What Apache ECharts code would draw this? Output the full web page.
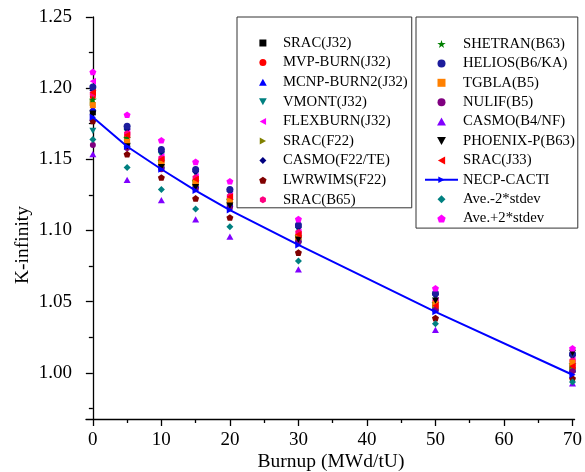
<!DOCTYPE html>
<html>
<head>
<meta charset="utf-8">
<script src="https://cdn.jsdelivr.net/npm/echarts@6/dist/echarts.min.js"></script>
<style>html,body{margin:0;padding:0;background:#fff;}#c{width:585px;height:472px;}</style>
</head>
<body>
<div id="c"></div>
<script>
const burnup = [0, 5, 10, 15, 20, 30, 50, 70];
const xTicks = [0, 10, 20, 30, 40, 50, 60, 70];
const xMinorTicks = [5, 15, 25, 35, 45, 55, 65];
const yTicks = [1.00, 1.05, 1.10, 1.15, 1.20, 1.25];
const yMinorTicks = [0.975, 1.025, 1.075, 1.125, 1.175, 1.225];

const sracJ32  = [1.1830, 1.1600, 1.1450, 1.1310, 1.1180, 1.0930, 1.0450, 1.0020];
const mvpBurn  = [1.1940, 1.1660, 1.1495, 1.1350, 1.1225, 1.0965, 1.0480, 1.0050];
const mcnpBurn2= [1.1860, 1.1610, 1.1460, 1.1320, 1.1190, 1.0940, 1.0460, 1.0030];
const vmont    = [1.1700, 1.1690, 1.1530, 1.1400, 1.1265, 1.1003, 1.0530, 1.0105];
const flexburn = [1.2049, 1.1690, 1.1520, 1.1380, 1.1245, 1.0990, 1.0510, 1.0090];
const sracF22  = [1.1900, 1.1640, 1.1475, 1.1335, 1.1205, 1.0950, 1.0475, 1.0040];
const casmoF22 = [1.1985, 1.1715, 1.1555, 1.1412, 1.1275, 1.1025, 1.0548, 1.0120];
const lwrwims  = [1.1770, 1.1536, 1.1372, 1.1225, 1.1091, 1.0844, 1.0384, 0.9960];
const sracB65  = [1.1960, 1.1680, 1.1506, 1.1370, 1.1240, 1.0985, 1.0505, 1.0085];
const shetran  = [1.1920, 1.1650, 1.1485, 1.1345, 1.1215, 1.0960, 1.0490, 1.0060];
const helios   = [1.2008, 1.1732, 1.1569, 1.1428, 1.1288, 1.1038, 1.0559, 1.0132];
const tgbla    = [1.1880, 1.1622, 1.1470, 1.1334, 1.1206, 1.0953, 1.0484, 1.0070];
const nulif    = [1.1600, 1.1580, 1.1430, 1.1290, 1.1160, 1.0920, 1.0440, 1.0010];
const casmoB4  = [1.1536, 1.1355, 1.1213, 1.1078, 1.0956, 1.0727, 1.0302, 0.9925];
const phoenix  = [1.1820, 1.1590, 1.1445, 1.1305, 1.1175, 1.0935, 1.0507, 1.0140];
const sracJ33  = [1.1970, 1.1670, 1.1500, 1.1360, 1.1237, 1.0972, 1.0470, 1.0045];
const necp     = [1.1795, 1.1590, 1.1430, 1.1280, 1.1143, 1.0898, 1.0428, 0.9986];
const aveMinus = [1.1640, 1.1443, 1.1288, 1.1150, 1.1026, 1.0785, 1.0344, 0.9935];
const avePlus  = [1.2114, 1.1813, 1.1634, 1.1482, 1.1346, 1.1080, 1.0594, 1.0172];

const S = {
  square: 'path://M-1,-1 L1,-1 L1,1 L-1,1 Z',
  circle: 'circle',
  triUp: 'path://M0,-1 L1,0.8 L-1,0.8 Z',
  triDown: 'path://M0,1 L1,-0.8 L-1,-0.8 Z',
  triLeft: 'path://M-1,0 L0.8,-1 L0.8,1 Z',
  triRight: 'path://M1,0 L-0.8,-1 L-0.8,1 Z',
  diamond: 'path://M0,-1 L1,0 L0,1 L-1,0 Z',
  pentagon: 'path://M0,-1 L0.951,-0.309 L0.588,0.809 L-0.588,0.809 L-0.951,-0.309 Z',
  hexagon: 'path://M0.866,-0.5 L0.866,0.5 L0,1 L-0.866,0.5 L-0.866,-0.5 L0,-1 Z',
  star: 'path://M0,-1 L0.225,-0.309 L0.951,-0.309 L0.363,0.118 L0.588,0.809 L0,0.382 L-0.588,0.809 L-0.363,0.118 L-0.951,-0.309 L-0.225,-0.309 Z'
};

const scatterDefs = [
  ['SRAC(J32)', sracJ32, '#000000', S.square, 6],
  ['MVP-BURN(J32)', mvpBurn, '#ff0000', S.circle, 6],
  ['MCNP-BURN2(J32)', mcnpBurn2, '#0000ff', S.triUp, 7],
  ['VMONT(J32)', vmont, '#008080', S.triDown, 7],
  ['FLEXBURN(J32)', flexburn, '#ff00ff', S.triLeft, 7],
  ['SRAC(F22)', sracF22, '#808000', S.triRight, 7],
  ['CASMO(F22/TE)', casmoF22, '#000080', S.diamond, 7],
  ['LWRWIMS(F22)', lwrwims, '#800000', S.pentagon, 7],
  ['SRAC(B65)', sracB65, '#ff0080', S.hexagon, 7],
  ['SHETRAN(B63)', shetran, '#008000', S.star, 8],
  ['HELIOS(B6/KA)', helios, '#1c1c9c', S.circle, 7],
  ['TGBLA(B5)', tgbla, '#ff8000', S.square, 6],
  ['NULIF(B5)', nulif, '#800080', S.circle, 6],
  ['CASMO(B4/NF)', casmoB4, '#8000ff', S.triUp, 7],
  ['PHOENIX-P(B63)', phoenix, '#000000', S.triDown, 7],
  ['SRAC(J33)', sracJ33, '#ff0000', S.triLeft, 7]
];
const extraDefs = [
  ['Ave.-2*stdev', aveMinus, '#008080', S.diamond, 7],
  ['Ave.+2*stdev', avePlus, '#ff00ff', S.pentagon, 7]
];

const pair = arr => burnup.map((b, i) => [b, arr[i]]);
const mkScatter = d => ({
  name: d[0], type: 'scatter', data: pair(d[1]),
  symbol: d[3], symbolSize: d[4], symbolKeepAspect: true,
  itemStyle: { color: d[2], opacity: 1 }, xAxisIndex: 0, yAxisIndex: 0
});

const series = scatterDefs.map(mkScatter);
series.push({
  name: 'NECP-CACTI', type: 'line', data: pair(necp),
  symbol: S.triRight, symbolSize: 7, symbolKeepAspect: true, showSymbol: true,
  lineStyle: { color: '#0000ff', width: 2 }, itemStyle: { color: '#0000ff' },
  xAxisIndex: 0, yAxisIndex: 0, z: 3
});
extraDefs.forEach(d => series.push(mkScatter(d)));

const font = 'Liberation Serif, Times New Roman, serif';
const legend1 = scatterDefs.slice(0, 9).map(d => d[0]);
const legend2 = scatterDefs.slice(9).map(d => d[0]).concat(['NECP-CACTI', 'Ave.-2*stdev', 'Ave.+2*stdev']);

const legendBase = {
  orient: 'vertical', selectedMode: false, top: 17,
  borderColor: '#333', borderWidth: 1, backgroundColor: '#fff',
  textStyle: { fontFamily: font, fontSize: 14.7, color: '#000', lineHeight: 15 }
};

const chart = echarts.init(document.getElementById('c'), null, { renderer: 'canvas' });
chart.setOption({
  animation: false,
  backgroundColor: '#fff',
  grid: { left: 86, right: 8, top: 17, bottom: 53 },
  xAxis: [
    {
      type: 'value', min: -1, max: 70.3,
      axisLine: { show: true, lineStyle: { color: '#000', width: 1.3 } },
      axisTick: { show: true, length: 7, lineStyle: { color: '#000', width: 1.3 }, customValues: xTicks },
      axisLabel: { customValues: xTicks, margin: 12, color: '#000', fontFamily: font, fontSize: 19 },
      splitLine: { show: false }
    },
    {
      type: 'value', min: -1, max: 70.3, position: 'bottom',
      axisLine: { show: false },
      axisTick: { show: true, length: 4, lineStyle: { color: '#000', width: 1.3 }, customValues: xMinorTicks },
      axisLabel: { show: false, customValues: xMinorTicks },
      splitLine: { show: false }
    }
  ],
  yAxis: [
    {
      type: 'value', min: 0.9675, max: 1.25,
      axisLine: { show: true, lineStyle: { color: '#000', width: 1.3 } },
      axisTick: { show: true, length: 7, lineStyle: { color: '#000', width: 1.3 }, customValues: yTicks },
      axisLabel: { customValues: yTicks, margin: 14, color: '#000', fontFamily: font, fontSize: 19,
        formatter: v => v.toFixed(2) },
      splitLine: { show: false }
    },
    {
      type: 'value', min: 0.9675, max: 1.25, position: 'left',
      axisLine: { show: false },
      axisTick: { show: true, length: 4, lineStyle: { color: '#000', width: 1.3 }, customValues: yMinorTicks },
      axisLabel: { show: false, customValues: yMinorTicks },
      splitLine: { show: false }
    }
  ],
  legend: [
    Object.assign({}, legendBase, {
      data: legend1, left: 237, padding: [18.5, 4, 0.5, 22],
      itemWidth: 30, itemHeight: 7, itemGap: 4.6
    }),
    Object.assign({}, legendBase, {
      data: legend2, left: 416, padding: [19.5, 3, 2, 8],
      itemWidth: 33, itemHeight: 8, itemGap: 4.4
    })
  ],
  graphic: [
    { type: 'text', x: 331, y: 462, style: { text: 'Burnup (MWd/tU)', align: 'center', verticalAlign: 'middle',
      fontFamily: font, fontSize: 19.5, fill: '#000' } },
    { type: 'text', x: 23, y: 245, rotation: Math.PI / 2, style: { text: 'K-infinity', align: 'center', verticalAlign: 'middle',
      fontFamily: font, fontSize: 19.5, fill: '#000' } }
  ],
  series: series
});
</script>
</body>
</html>
